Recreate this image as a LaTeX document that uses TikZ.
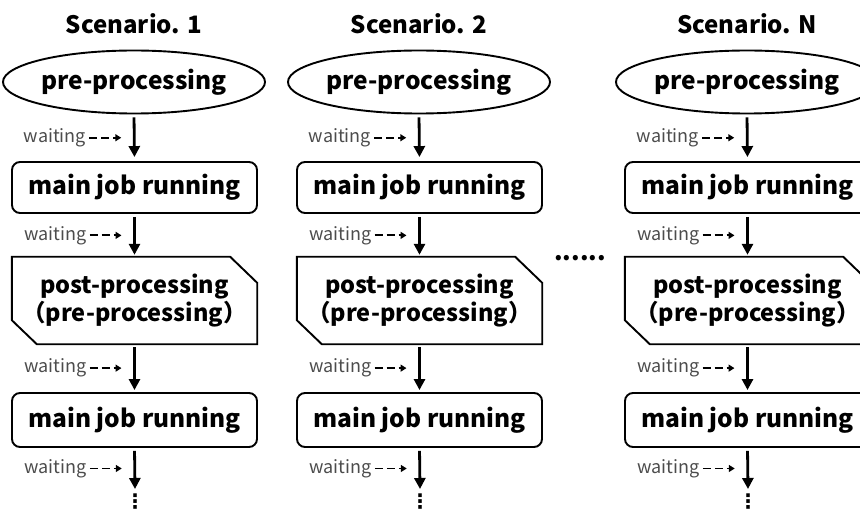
\documentclass[tikz,border=0pt]{standalone}
\usepackage{fontspec}
\setmainfont{Noto Sans CJK JP}
\newfontfamily\symfont{DejaVu Sans}
\usetikzlibrary{arrows.meta,shapes.geometric}
\newcommand{\wlab}[1]{%
  \node[waittext] (t#1) at ([xshift=-48pt]#1) {waiting};
  \coordinate (s#1) at ([xshift=-45pt]#1);
  \coordinate (e#1) at ([xshift=-13pt]#1);
  \draw[waitarr] (s#1) -- (e#1);}
\begin{document}
\begin{tikzpicture}[x=1pt,y=-1pt,
  every node/.style={font=\bfseries\fontsize{24.5}{28}\selectfont},
  ellbox/.style={draw, ellipse, line width=1.9pt, minimum width=248pt, minimum height=63pt, inner sep=0pt},
  mainbox/.style={draw, rounded corners=8pt, line width=1.9pt, minimum width=245pt, inner sep=0pt},
  postbox/.style={minimum width=245pt, minimum height=87pt, inner sep=0pt, align=center, font=\bfseries\fontsize{23.5}{28}\selectfont},
  chamfer/.style={line width=1.9pt},
  flow/.style={-{Triangle[length=11pt,width=11pt]}, line width=2.8pt},
  waitarr/.style={-{Triangle[length=6pt,width=7pt]}, dash pattern=on 8pt off 4pt, line width=1.8pt},
  waittext/.style={font=\fontsize{18}{21}\selectfont, text=black!70, anchor=east, inner sep=0pt},
  titletext/.style={font=\bfseries\fontsize{24}{28}\selectfont},
  vdotstext/.style={font=\symfont\bfseries\fontsize{20}{22}\selectfont, inner sep=0pt}
]
\useasboundingbox (0,0) rectangle (860,513);
\clip (0,0) rectangle (860,513);
\foreach \colx/\coln in {0/1, 285/2, 613/N}{
  \node[titletext] (title\coln) at (\colx+134,24) {Scenario. \coln};
  \node[ellbox] (pre\coln) at (\colx+134,82) {pre-processing};
  \node[mainbox, minimum height=51pt] (mainA\coln) at (\colx+134.5,187.5) {main job running};
  \node[postbox] (post\coln) at (\colx+134.5,300.5) {post-processing\\（pre-processing）};
  \draw[chamfer] (post\coln.north west) -- ([xshift=-27pt]post\coln.north east)
     -- ([yshift=-26pt]post\coln.north east) -- (post\coln.south east)
     -- ([xshift=25pt]post\coln.south west) -- ([yshift=24pt]post\coln.south west) -- cycle;
  \node[mainbox, minimum height=54pt] (mainB\coln) at (\colx+134.5,420) {main job running};
  \node[vdotstext] (dots\coln) at (\colx+135,502) {⋮};
  \coordinate (end\coln) at (\colx+135,489);
  \draw[flow, shorten <=3pt, shorten >=4pt] (pre\coln.south) -- node[coordinate,pos=0.5] (wa\coln) {} (mainA\coln.north);
  \draw[flow, shorten <=3pt, shorten >=2pt] (mainA\coln.south) -- node[coordinate,pos=0.5] (wb\coln) {} (post\coln.north);
  \draw[flow, shorten <=3pt, shorten >=2pt] (post\coln.south) -- node[coordinate,pos=0.5] (wc\coln) {} (mainB\coln.north);
  \draw[flow, shorten <=3pt] (mainB\coln.south) -- node[coordinate,pos=0.5] (wd\coln) {} (end\coln);
  \wlab{wa\coln}
  \wlab{wb\coln}
  \wlab{wc\coln}
  \wlab{wd\coln}
}
\node (hdots) at (580,258) {......};
\end{tikzpicture}
\end{document}
